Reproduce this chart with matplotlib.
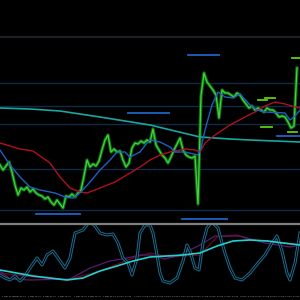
import numpy as np
import matplotlib
matplotlib.use("Agg")
import matplotlib.pyplot as plt

# price bars (close), one every 3 px
close = [135, 130, 134, 138, 128, 115, 105, 112, 110, 113, 108, 111, 107, 105, 104, 101,
         103, 98, 95, 100, 96, 92, 104, 103, 106, 103, 107, 110, 124, 140, 133, 136,
         134, 139, 150, 160, 165, 148, 151, 148, 149, 140, 133, 137, 152, 157, 156, 159,
         157, 160, 158, 171, 155, 150, 145, 142, 137, 143, 150, 156, 162, 150, 145, 143,
         142, 144, 96, 204, 227, 218, 214, 210, 205, 182, 210, 207, 207, 205, 203, 207,
         205, 200, 196, 192, 194, 190, 192, 190, 188, 192, 190, 190, 187, 183, 184, 183,
         178, 172, 174, 232]

# moving averages
red_x = [0, 20, 33, 50, 60, 70, 80, 87, 100, 115, 130, 140, 150, 160, 170, 185, 195, 200,
         205, 215, 230, 245, 255, 265, 275, 285, 295, 300]
red_v = [157, 151, 149, 137, 123, 112, 108, 107, 112, 118, 127, 133, 140, 145, 148, 151, 150, 148,
         157, 165, 175, 183, 188, 194, 198, 196, 193, 192]
blue_x = [0, 10, 20, 30, 40, 55, 65, 73, 80, 90, 100, 110, 117, 125, 130, 140, 147, 150, 160,
          170, 175, 185, 198, 201, 205, 212, 218, 225, 233, 240, 250, 257, 265, 285, 290, 295, 300]
blue_v = [150, 135, 123, 113, 110, 107, 103, 102, 107, 118, 130, 140, 148, 148, 143, 148, 157, 160, 158,
          153, 148, 148, 145, 152, 170, 195, 208, 203, 202, 206, 195, 190, 188, 187, 180, 184, 190]
cyan_x = [0, 30, 60, 100, 150, 175, 200, 230, 250, 300]
cyan_v = [192, 191, 189, 183, 175, 169, 163, 161, 160, 158]

# horizontal levels
full_levels = [217, 194, 176, 131, 90]
grey_level = 263
blue_segs = [(188, 219, 245), (128, 169, 187), (36, 80, 86), (182, 227, 81), (277, 300, 164)]
green_segs = [(292, 300, 242), (265, 275, 202), (258, 267, 200), (261, 272, 173), (288, 297, 168)]

# oscillator panel
osc_x = [0, 5, 10, 15, 20, 25, 30, 37, 42, 47, 53, 58, 65, 70, 75, 83, 90, 95, 100, 107, 113,
         118, 123, 128, 132, 137, 140, 145, 150, 153, 157, 160, 163, 170, 177, 183, 187, 190,
         195, 199, 203, 207, 212, 218, 222, 225, 230, 235, 242, 250, 258, 265, 272, 277, 282,
         287, 290, 295, 300]
osc_v = [18, 15, 13, 17, 12, 17, 25, 35, 28, 38, 42, 35, 25, 35, 60, 63, 72, 67, 60, 58, 59,
         50, 35, 30, 18, 35, 60, 68, 68, 60, 38, 20, 12, 10, 15, 32, 48, 42,
         25, 23, 50, 65, 71, 65, 50, 40, 25, 15, 13, 20, 30, 38, 50, 57, 42,
         20, 13, 30, 60]
sig_x = [0, 33, 67, 83, 100, 117, 133, 150, 183, 200, 217, 233, 250, 267, 283, 300]
sig_v = [23, 17, 13, 15, 22, 27, 32, 36, 38, 40, 47, 52, 53, 52, 50, 48]
slow_x = [0, 33, 67, 100, 133, 150, 170, 200, 217, 237, 250, 273, 300]
slow_v = [20, 16, 13, 22, 35, 40, 36, 38, 56, 58, 53, 52, 48]
purp_x = [0, 10, 30, 70, 90, 110, 127, 140, 150, 165, 180, 200, 215, 240, 265, 290, 300]
purp_v = [22, 14, 13, 14, 25, 32, 35, 38, 38, 34, 38, 48, 57, 57, 50, 46, 48]

date_labels = ["2 Mar 22:00", "3 Mar 22:00", "4 Mar 22:00", "5 Mar 22:00", "6 Mar 22:00",
               "7 Mar 22:00", "8 Mar 22:00", "9 Mar 22:00", "10 Mar 22:00", "11 Mar 22:00",
               "12 Mar 22:00", "13 Mar 22:00", "14 Mar 22:00", "15 Mar 22:00", "16 Mar 22:00",
               "17 Mar 22:00", "18 Mar 22:00", "19 Mar 22:00", "20 Mar 22:00", "21 Mar 22:00"]

fig = plt.figure(figsize=(3, 3), dpi=100, facecolor="black")

# main price panel
ax = fig.add_axes([0, 0.26, 1, 0.74], facecolor="black")
ax.set_xlim(0, 300)
ax.set_ylim(78, 300)
ax.axis("off")

ax.axhline(grey_level, color="#1e1e26", lw=1.6)
for lv in full_levels:
    ax.axhline(lv, color="#0f2b48", lw=1.0)
for x0, x1, v in blue_segs:
    ax.plot([x0, x1], [v, v], color="#1f62c4", lw=1.3)
for x0, x1, v in green_segs:
    ax.plot([x0, x1], [v, v], color="#5ccf10", lw=1.3)

bx = np.arange(len(close)) * 3
ax.plot(bx, close, color="#146614", lw=2.4)
ax.plot(bx, close, color="#3ad83a", lw=0.9)

ax.plot(cyan_x, cyan_v, color="#1aa6a0", lw=1.2)
ax.plot(red_x, red_v, color="#b01020", lw=1.0)
ax.plot(blue_x, blue_v, color="#1f5fbf", lw=1.0)

# oscillator panel
ax2 = fig.add_axes([0, 7 / 300, 1, 69 / 300], facecolor="black")
ax2.set_xlim(0, 300)
ax2.set_ylim(0, 69)
for s in ax2.spines.values():
    s.set_visible(False)
ax2.spines["top"].set_visible(True)
ax2.spines["top"].set_color("#808080")
ax2.spines["top"].set_linewidth(1.6)
ax2.set_xticks([])
ax2.set_yticks([])

ax2.plot(slow_x, slow_v, color="#6a0a18", lw=0.9)
ax2.plot(purp_x, purp_v, color="#5a1a70", lw=0.9)
ax2.plot(osc_x, osc_v, color="#1c6a8c", lw=2.2)
ax2.plot(osc_x, osc_v, color="black", lw=0.7)
ax2.plot(sig_x, sig_v, color="#22d0d0", lw=1.2)

label_x = [8, 19, 34, 49, 64, 80, 94, 109, 124, 141, 156, 171, 186, 201, 216, 231, 247, 262, 277, 292]
for lx, lab in zip(label_x, date_labels):
    fig.text(lx / 300, 4 / 300, lab, color="#b0b0b0", fontsize=1.5, ha="center", va="center")

fig.savefig("out.png", dpi=100, facecolor="black")
